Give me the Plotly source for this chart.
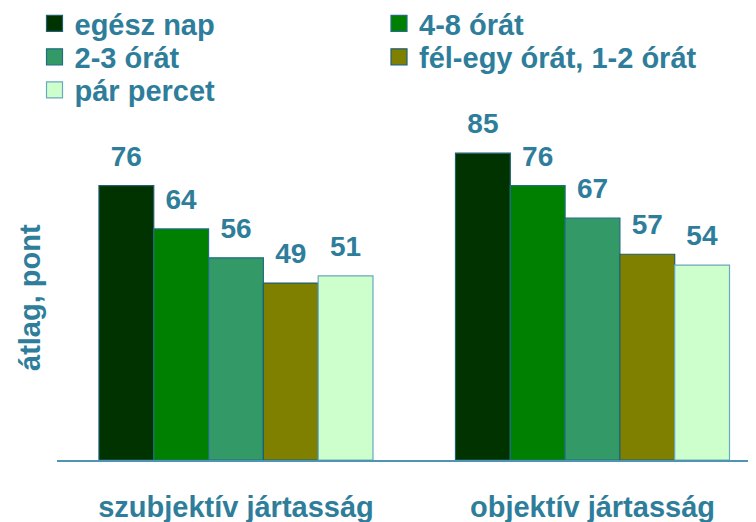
import plotly.graph_objects as go

categories = ["szubjektív jártasság", "objektív jártasság"]
series_names = ["egész nap", "4-8 órát", "2-3 órát", "fél-egy órát, 1-2 órát", "pár percet"]
egesz_nap = [76, 85]
ora_4_8 = [64, 76]
ora_2_3 = [56, 67]
fel_egy = [49, 57]
par_perc = [51, 54]
values = [egesz_nap, ora_4_8, ora_2_3, fel_egy, par_perc]

colors = ["#003300", "#008000", "#339966", "#808000", "#CCFFCC"]
outline = ["#1F5F70", "#1F6F80", "#1F6F80", "#1F5F70", "#6AA8C0"]
TXT = "#2E7E9B"
FONT = "Liberation Sans, Arial, sans-serif"
LABEL_PAD = 3  # value units of empty space between a bar top and its label

OFF = 8  # page body margin
W, H = 756 - OFF, 522 - OFF

# legend anchor / row centre in screen px
leg_pos = [(34.5, 23.5), (379, 23.5), (34.5, 57), (379, 57), (34.5, 90)]

fig = go.Figure()
for i, (name, vals) in enumerate(zip(series_names, values)):
    fig.add_trace(go.Bar(
        x=categories, y=vals, name=name, offsetgroup=str(i),
        marker=dict(color=colors[i], line=dict(color=outline[i], width=1.2)),
        showlegend=False, hoverinfo="skip",
    ))
for i, vals in enumerate(values):
    fig.add_trace(go.Bar(
        x=categories, y=[LABEL_PAD] * len(vals), base=vals, offsetgroup=str(i),
        marker=dict(color="rgba(0,0,0,0)", line=dict(width=0)),
        text=[str(v) for v in vals], textposition="outside", cliponaxis=False,
        constraintext="none", showlegend=False, hoverinfo="skip",
        textfont=dict(family=FONT, size=28, color=TXT, weight="bold"),
    ))
# legend entries (square swatches)
for i, name in enumerate(series_names):
    lg = "legend" if i == 0 else f"legend{i+1}"
    fig.add_trace(go.Scatter(
        x=[None], y=[None], mode="markers", name=name, legend=lg,
        marker=dict(symbol="square", size=16, color=colors[i],
                    line=dict(color=outline[i], width=1.2)),
        hoverinfo="skip",
    ))

L, R, T, B = 57 - OFF, 0, 99 - OFF, 62
layout_legends = {}
for i, (sx, sy) in enumerate(leg_pos):
    key = "legend" if i == 0 else f"legend{i+1}"
    layout_legends[key] = dict(
        xref="container", yref="container",
        x=(sx - OFF) / W, y=1 - (sy - OFF) / H, xanchor="left", yanchor="middle",
        bgcolor="rgba(0,0,0,0)", borderwidth=0, itemsizing="trace",
        font=dict(family=FONT, size=29, color=TXT, weight="bold"),
    )

fig.update_layout(
    width=W, height=H,
    margin=dict(l=L, r=R, t=T, b=B, autoexpand=False),
    paper_bgcolor="white", plot_bgcolor="white",
    barmode="group", bargap=0.2314, bargroupgap=0,
    showlegend=True,
    **layout_legends,
    xaxis=dict(
        type="category", automargin=False,
        range=[-0.502, 1.4586], showline=True, linecolor="#4F95B3", linewidth=2,
        ticks="", showgrid=False, zeroline=False, ticklabelstandoff=20,
        tickfont=dict(family=FONT, size=29, color=TXT, weight="bold"),
    ),
    yaxis=dict(range=[0, 100], visible=False, automargin=False),
    annotations=[dict(
        text="átlag, pont", xref="paper", yref="paper",
        x=(30 - 57) / (W - L - R), y=(460 - 298) / (H - T - B),
        textangle=-90, showarrow=False, xanchor="center", yanchor="middle",
        font=dict(family=FONT, size=29, color=TXT, weight="bold"),
    )],
)

fig.write_html("out.html")
